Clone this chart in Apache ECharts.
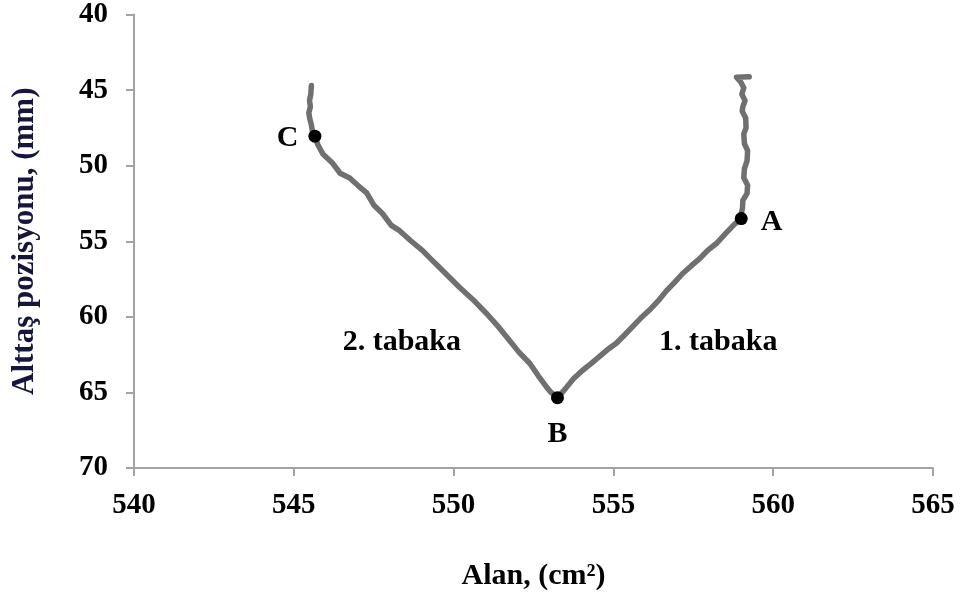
<!DOCTYPE html>
<html>
<head>
<meta charset="utf-8">
<script src="https://cdn.jsdelivr.net/npm/echarts@6/dist/echarts.min.js"></script>
<style>
  html, body { margin: 0; padding: 0; background: #ffffff; }
  #chart { width: 966px; height: 596px; }
</style>
</head>
<body>
<div id="chart"></div>
<script>
// Measured path: area (cm²) against substrate position (mm)
const areaValues = [
  559.25, 558.85, 558.98, 559.08, 559.02, 559.12, 559.05, 559.03, 559.14, 559.15, 559.08,
  559.10, 559.20, 559.18, 559.10, 559.08, 559.20, 559.18, 559.05, 559.04, 559.00, 559.00,
  558.80, 558.55, 558.22, 557.95, 557.70, 557.45, 557.16, 556.90, 556.65, 556.40, 556.13,
  555.85, 555.60, 555.35, 555.09, 554.80, 554.55, 554.30, 554.03, 553.75, 553.50, 553.25,
  553.05, 552.91, 552.65, 552.38, 552.05, 551.75, 551.40, 551.03, 550.60, 550.19, 549.85,
  549.56, 549.30, 549.03, 548.65, 548.31, 548.05, 547.78, 547.50, 547.28, 547.00, 546.75,
  546.45, 546.20, 545.91, 545.75, 545.66,
  545.58, 545.55, 545.50, 545.47, 545.52, 545.49, 545.53, 545.55
];
const positionValues = [
  44.12, 44.15, 44.45, 44.85, 45.27, 45.70, 46.10, 46.40, 46.85, 47.50, 47.90,
  48.55, 49.00, 49.70, 50.20, 50.80, 51.30, 51.85, 52.30, 52.80, 53.20, 53.50,
  53.85, 54.40, 55.15, 55.60, 56.15, 56.60, 57.15, 57.75, 58.30, 58.95, 59.55,
  60.10, 60.65, 61.20, 61.75, 62.20, 62.65, 63.10, 63.55, 64.10, 64.75, 65.35,
  65.00, 64.65, 63.90, 63.07, 62.35, 61.56, 60.65, 59.78, 58.85, 58.06, 57.35,
  56.74, 56.20, 55.62, 54.95, 54.30, 53.95, 53.18, 52.60, 51.80, 51.30, 50.81,
  50.50, 49.80, 49.23, 48.60, 48.05,
  47.70, 47.30, 46.90, 46.50, 46.10, 45.70, 45.30, 44.70
];

// Marked turning points
const pointNames = ['A', 'B', 'C'];
const pointArea = [559.0, 553.25, 545.66];
const pointPosition = [53.5, 65.35, 48.05];

// Layer annotations
const layerNames = ['1. tabaka', '2. tabaka'];
const layerArea = [558.28, 548.38];
const layerPosition = [61.7, 61.7];

// Axis settings
const xTicks = { min: 540, max: 565, interval: 5 };
const yTicks = { min: 40, max: 70, interval: 5 };
const xTitle = 'Alan, (cm²)';
const yTitle = 'Alttaş pozisyonu, (mm)';

const FONT = '"Liberation Serif", "Times New Roman", serif';

const curveData = areaValues.map((x, i) => [x, positionValues[i]]);
const pointData = pointNames.map((n, i) => ({ name: n, value: [pointArea[i], pointPosition[i]] }));
const layerData = layerNames.map((n, i) => ({ name: n, value: [layerArea[i], layerPosition[i]] }));

const labelPlacement = {
  A: { position: 'right', distance: 13, offset: [0, 4] },
  B: { position: 'bottom', distance: 15, offset: [0, 0] },
  C: { position: 'left', distance: 10, offset: [0, 2] }
};

const axisLineStyle = { color: '#a3a3a3', width: 2 };

const chart = echarts.init(document.getElementById('chart'), null, { renderer: 'canvas' });
chart.setOption({
  backgroundColor: '#ffffff',
  animation: false,
  grid: { left: 134, right: 33, top: 13, bottom: 128 },
  xAxis: {
    type: 'value',
    min: xTicks.min, max: xTicks.max, interval: xTicks.interval,
    name: xTitle,
    nameLocation: 'middle',
    nameGap: 93,
    nameTextStyle: { fontFamily: FONT, fontWeight: 'bold', fontSize: 30, color: '#000000' },
    axisLine: { onZero: false, lineStyle: axisLineStyle },
    axisTick: { show: true, length: 8, lineStyle: axisLineStyle },
    splitLine: { show: false },
    axisLabel: { margin: 23, fontFamily: FONT, fontWeight: 'bold', fontSize: 29, color: '#000000' }
  },
  yAxis: {
    type: 'value',
    inverse: true,
    min: yTicks.min, max: yTicks.max, interval: yTicks.interval,
    name: yTitle,
    nameLocation: 'middle',
    nameGap: 94,
    nameTextStyle: { fontFamily: FONT, fontWeight: 'bold', fontSize: 31, color: '#14163a' },
    axisLine: { onZero: false, lineStyle: axisLineStyle },
    axisTick: { show: true, length: 8, lineStyle: axisLineStyle },
    splitLine: { show: false },
    axisLabel: { margin: 26, fontFamily: FONT, fontWeight: 'bold', fontSize: 29, color: '#000000' }
  },
  series: [
    {
      type: 'line',
      data: curveData,
      showSymbol: false,
      symbol: 'none',
      lineStyle: { color: '#707070', width: 5.5, join: 'round', cap: 'round' },
      z: 2
    },
    {
      type: 'scatter',
      data: pointData.map(p => ({
        name: p.name,
        value: p.value,
        label: Object.assign({ show: true, formatter: '{b}' }, labelPlacement[p.name])
      })),
      symbol: 'circle',
      symbolSize: 13,
      itemStyle: { color: '#000000', opacity: 1 },
      label: { fontFamily: FONT, fontWeight: 'bold', fontSize: 30, color: '#000000' },
      z: 3
    },
    {
      type: 'scatter',
      data: layerData,
      symbolSize: 0,
      itemStyle: { opacity: 1 },
      label: {
        show: true, position: 'inside', formatter: '{b}',
        fontFamily: FONT, fontWeight: 'bold', fontSize: 30, color: '#000000'
      },
      z: 3
    }
  ]
});
</script>
</body>
</html>
